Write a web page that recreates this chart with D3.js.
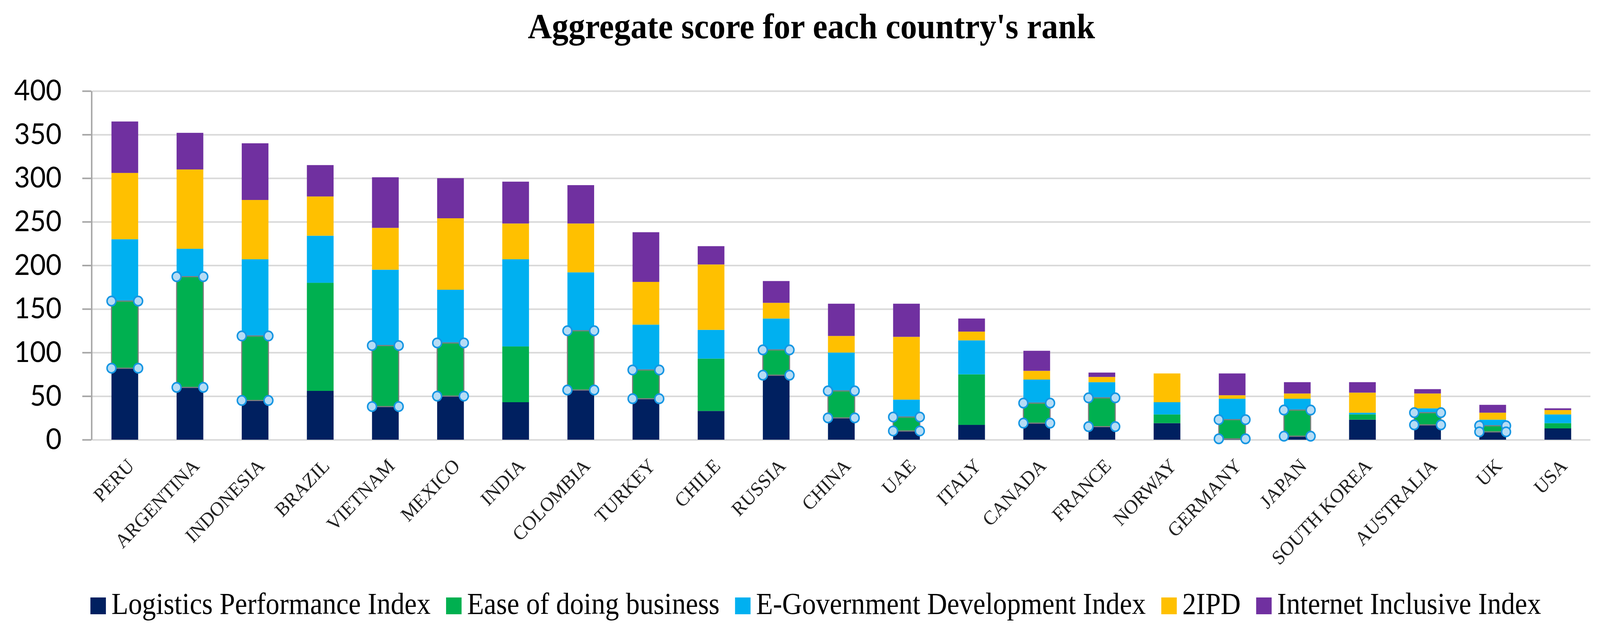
<!DOCTYPE html>
<html>
<head>
<meta charset="utf-8">
<script src="https://cdn.jsdelivr.net/npm/d3@7"></script>
<style>
  html, body { margin: 0; padding: 0; background: #fff; overflow: hidden; }
  svg { display: block; }
</style>
</head>
<body>
<div id="chart"></div>
<script>
// Country order (sorted by aggregate score)
const countries = ["PERU", "ARGENTINA", "INDONESIA", "BRAZIL", "VIETNAM", "MEXICO", "INDIA",
  "COLOMBIA", "TURKEY", "CHILE", "RUSSIA", "CHINA", "UAE", "ITALY", "CANADA", "FRANCE",
  "NORWAY", "GERMANY", "JAPAN", "SOUTH KOREA", "AUSTRALIA", "UK", "USA"];

// Series values
const logistics = [82, 60, 45, 56, 38, 50, 43, 57, 47, 33, 74, 25, 10, 17, 19, 15, 19, 1, 4, 23, 17, 9, 13];
const easeBusiness = [77, 127, 74, 124, 70, 61, 64, 68, 33, 60, 29, 31, 16, 58, 23, 33, 10, 22, 30, 6, 14, 7, 6];
const eGov = [71, 32, 88, 54, 87, 61, 100, 67, 52, 33, 36, 44, 20, 39, 27, 18, 14, 24, 13, 2, 5, 7, 10];
const ipd2 = [76, 91, 68, 45, 48, 82, 41, 56, 49, 75, 18, 19, 72, 10, 10, 6, 33, 4, 6, 23, 17, 8, 5];
const internet = [59, 42, 65, 36, 58, 46, 48, 44, 57, 21, 25, 37, 38, 15, 23, 5, 0, 25, 13, 12, 5, 9, 2];

const seriesNames = ["Logistics Performance Index", "Ease of doing business",
  "E-Government Development Index", "2IPD", "Internet Inclusive Index"];
const seriesColors = ["#002060", "#00b050", "#00b0f0", "#ffc000", "#7030a0"];

const yTicks = [0, 50, 100, 150, 200, 250, 300, 350, 400];

// Bars whose green segment shows selection handles in the original
const selectedGreen = ["PERU", "ARGENTINA", "INDONESIA", "VIETNAM", "MEXICO", "COLOMBIA", "TURKEY",
  "RUSSIA", "CHINA", "UAE", "CANADA", "FRANCE", "GERMANY", "JAPAN", "AUSTRALIA", "UK"];

const W = 4336, H = 1621;
const plot = { left: 250, right: 4310, top: 233, bottom: 1126 };
const serif = "'Liberation Serif', 'DejaVu Serif', serif";

const allSeries = [logistics, easeBusiness, eGov, ipd2, internet];
const rows = countries.map((c, i) => {
  const r = { country: c };
  seriesNames.forEach((s, k) => { r[s] = allSeries[k][i]; });
  return r;
});

// fill the window whatever its css size
const svg = d3.select("#chart").append("svg")
  .attr("viewBox", `0 0 ${W} ${H}`)
  .attr("preserveAspectRatio", "none")
  .attr("width", window.innerWidth)
  .attr("height", window.innerHeight)
  .style("background", "#fff");

const x = d3.scaleBand()
  .domain(countries)
  .range([plot.left, plot.right])
  .paddingInner(0.59)
  .paddingOuter(0.295);

const y = d3.scaleLinear()
  .domain([0, 400])
  .range([plot.bottom, plot.top]);

// Gridlines
svg.append("g")
  .attr("transform", `translate(${plot.left},0)`)
  .call(d3.axisRight(y).tickValues(yTicks).tickSize(plot.right - plot.left).tickFormat(""))
  .call(g => g.select(".domain").remove())
  .call(g => g.selectAll(".tick line").attr("stroke", "#d9d9d9").attr("stroke-width", 4));

// Y axis
svg.append("g")
  .attr("transform", `translate(${plot.left - 2},0)`)
  .call(d3.axisLeft(y).tickValues(yTicks).tickSize(25).tickSizeOuter(0).tickPadding(56).tickFormat(d3.format("d")))
  .call(g => g.select(".domain").attr("stroke", "#a6a6a6").attr("stroke-width", 4))
  .call(g => g.selectAll(".tick line").attr("stroke", "#a6a6a6").attr("stroke-width", 4))
  .call(g => g.selectAll(".tick text")
    .attr("font-family", "Lato, 'Open Sans', sans-serif")
    .attr("font-size", 74)
    .attr("fill", "#000"));

// Stacked bars
const stacked = d3.stack().keys(seriesNames)(rows);

const layers = svg.append("g").selectAll("g")
  .data(stacked)
  .join("g")
  .attr("fill", (d, i) => seriesColors[i]);

layers.selectAll("rect")
  .data(d => d)
  .join("rect")
  .attr("x", d => x(d.data.country))
  .attr("y", d => y(d[1]))
  .attr("width", x.bandwidth())
  .attr("height", d => y(d[0]) - y(d[1]));

// Selection handles on green segments
const greenLayer = stacked[1];
const sel = greenLayer.filter(d => selectedGreen.includes(d.data.country));
const handles = svg.append("g");

handles.selectAll("rect")
  .data(sel)
  .join("rect")
  .attr("x", d => x(d.data.country))
  .attr("y", d => y(d[1]))
  .attr("width", x.bandwidth())
  .attr("height", d => y(d[0]) - y(d[1]))
  .attr("fill", "none")
  .attr("stroke", "#7f7f7f")
  .attr("stroke-width", 3);

const corners = [];
sel.forEach(d => {
  [x(d.data.country), x(d.data.country) + x.bandwidth()].forEach(cx => {
    [y(d[1]), y(d[0])].forEach(cy => corners.push({ cx, cy }));
  });
});

handles.selectAll("circle")
  .data(corners)
  .join("circle")
  .attr("cx", d => d.cx)
  .attr("cy", d => d.cy)
  .attr("r", 12)
  .attr("fill", "#b6dcf5")
  .attr("stroke", "#1596e3")
  .attr("stroke-width", 4);

// Category labels
svg.append("g").selectAll("text")
  .data(countries)
  .join("text")
  .attr("transform", d => `translate(${x(d) + x.bandwidth() / 2 + 28},1196) rotate(-45)`)
  .attr("text-anchor", "end")
  .attr("font-family", serif)
  .attr("font-size", 51)
  .attr("fill", "#222")
  .text(d => d);

// Title
svg.append("text")
  .attr("x", 2199)
  .attr("y", 98)
  .attr("text-anchor", "middle")
  .attr("font-family", serif)
  .attr("font-weight", "bold")
  .attr("font-size", 90)
  .attr("fill", "#000")
  .text("Aggregate score for each country's rank");

// Legend, squeezed a bit to match the narrow serif of the original
const legend = svg.append("g").attr("transform", "translate(245,0)");
let lx = 0;
seriesNames.forEach((name, i) => {
  legend.append("rect")
    .attr("x", lx)
    .attr("y", 1530)
    .attr("width", 42)
    .attr("height", 43)
    .attr("fill", seriesColors[i]);
  const t = legend.append("text")
    .attr("x", lx + 57)
    .attr("y", 1572)
    .attr("font-family", serif)
    .attr("font-size", 78)
    .attr("fill", "#000")
    .text(name);
  const len = t.node().getComputedTextLength() * 0.96;
  t.attr("textLength", len).attr("lengthAdjust", "spacingAndGlyphs");
  lx += 57 + len + 42;
});
</script>
</body>
</html>
